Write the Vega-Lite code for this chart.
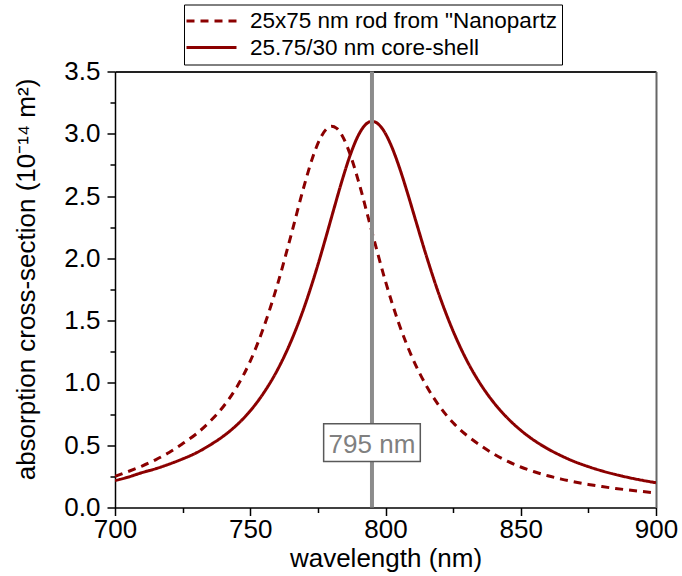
{
  "$schema": "https://vega.github.io/schema/vega-lite/v6.json",
  "width": 541,
  "height": 436,
  "autosize": {"type": "none"},
  "padding": {"left": 115, "top": 71.5, "right": 26, "bottom": 68.5},
  "background": "white",
  "config": {
    "view": {"stroke": null},
    "font": "Liberation Sans",
    "axis": {
      "labelFont": "Liberation Sans",
      "titleFont": "Liberation Sans",
      "domainColor": "black",
      "tickColor": "black",
      "labelColor": "black",
      "titleColor": "black",
      "grid": false,
      "titleFontWeight": "normal",
      "domainWidth": 1.5,
      "tickWidth": 1.5
    }
  },
  "datasets": {
    "curves": [
      {"series": "25x75 nm rod from \"Nanopartz", "wl": 700, "v": 0.25},
      {"series": "25x75 nm rod from \"Nanopartz", "wl": 705, "v": 0.29},
      {"series": "25x75 nm rod from \"Nanopartz", "wl": 710, "v": 0.333},
      {"series": "25x75 nm rod from \"Nanopartz", "wl": 715, "v": 0.383},
      {"series": "25x75 nm rod from \"Nanopartz", "wl": 720, "v": 0.442},
      {"series": "25x75 nm rod from \"Nanopartz", "wl": 725, "v": 0.513},
      {"series": "25x75 nm rod from \"Nanopartz", "wl": 730, "v": 0.59},
      {"series": "25x75 nm rod from \"Nanopartz", "wl": 735, "v": 0.689},
      {"series": "25x75 nm rod from \"Nanopartz", "wl": 740, "v": 0.809},
      {"series": "25x75 nm rod from \"Nanopartz", "wl": 745, "v": 0.966},
      {"series": "25x75 nm rod from \"Nanopartz", "wl": 750, "v": 1.175},
      {"series": "25x75 nm rod from \"Nanopartz", "wl": 755, "v": 1.449},
      {"series": "25x75 nm rod from \"Nanopartz", "wl": 760, "v": 1.785},
      {"series": "25x75 nm rod from \"Nanopartz", "wl": 765, "v": 2.179},
      {"series": "25x75 nm rod from \"Nanopartz", "wl": 770, "v": 2.588},
      {"series": "25x75 nm rod from \"Nanopartz", "wl": 773, "v": 2.806},
      {"series": "25x75 nm rod from \"Nanopartz", "wl": 776, "v": 2.968},
      {"series": "25x75 nm rod from \"Nanopartz", "wl": 778, "v": 3.034},
      {"series": "25x75 nm rod from \"Nanopartz", "wl": 780, "v": 3.06},
      {"series": "25x75 nm rod from \"Nanopartz", "wl": 782, "v": 3.043},
      {"series": "25x75 nm rod from \"Nanopartz", "wl": 784, "v": 2.984},
      {"series": "25x75 nm rod from \"Nanopartz", "wl": 787, "v": 2.831},
      {"series": "25x75 nm rod from \"Nanopartz", "wl": 790, "v": 2.62},
      {"series": "25x75 nm rod from \"Nanopartz", "wl": 795, "v": 2.212},
      {"series": "25x75 nm rod from \"Nanopartz", "wl": 800, "v": 1.815},
      {"series": "25x75 nm rod from \"Nanopartz", "wl": 805, "v": 1.473},
      {"series": "25x75 nm rod from \"Nanopartz", "wl": 810, "v": 1.198},
      {"series": "25x75 nm rod from \"Nanopartz", "wl": 815, "v": 0.981},
      {"series": "25x75 nm rod from \"Nanopartz", "wl": 820, "v": 0.811},
      {"series": "25x75 nm rod from \"Nanopartz", "wl": 825, "v": 0.68},
      {"series": "25x75 nm rod from \"Nanopartz", "wl": 830, "v": 0.58},
      {"series": "25x75 nm rod from \"Nanopartz", "wl": 835, "v": 0.5},
      {"series": "25x75 nm rod from \"Nanopartz", "wl": 840, "v": 0.43},
      {"series": "25x75 nm rod from \"Nanopartz", "wl": 845, "v": 0.372},
      {"series": "25x75 nm rod from \"Nanopartz", "wl": 850, "v": 0.325},
      {"series": "25x75 nm rod from \"Nanopartz", "wl": 855, "v": 0.287},
      {"series": "25x75 nm rod from \"Nanopartz", "wl": 860, "v": 0.255},
      {"series": "25x75 nm rod from \"Nanopartz", "wl": 865, "v": 0.228},
      {"series": "25x75 nm rod from \"Nanopartz", "wl": 870, "v": 0.205},
      {"series": "25x75 nm rod from \"Nanopartz", "wl": 875, "v": 0.185},
      {"series": "25x75 nm rod from \"Nanopartz", "wl": 880, "v": 0.168},
      {"series": "25x75 nm rod from \"Nanopartz", "wl": 885, "v": 0.153},
      {"series": "25x75 nm rod from \"Nanopartz", "wl": 890, "v": 0.14},
      {"series": "25x75 nm rod from \"Nanopartz", "wl": 895, "v": 0.128},
      {"series": "25x75 nm rod from \"Nanopartz", "wl": 900, "v": 0.117},
      {"series": "25.75/30 nm core-shell", "wl": 700, "v": 0.216},
      {"series": "25.75/30 nm core-shell", "wl": 705, "v": 0.245},
      {"series": "25.75/30 nm core-shell", "wl": 710, "v": 0.28},
      {"series": "25.75/30 nm core-shell", "wl": 715, "v": 0.311},
      {"series": "25.75/30 nm core-shell", "wl": 720, "v": 0.348},
      {"series": "25.75/30 nm core-shell", "wl": 725, "v": 0.39},
      {"series": "25.75/30 nm core-shell", "wl": 730, "v": 0.438},
      {"series": "25.75/30 nm core-shell", "wl": 735, "v": 0.5},
      {"series": "25.75/30 nm core-shell", "wl": 740, "v": 0.572},
      {"series": "25.75/30 nm core-shell", "wl": 745, "v": 0.662},
      {"series": "25.75/30 nm core-shell", "wl": 750, "v": 0.776},
      {"series": "25.75/30 nm core-shell", "wl": 755, "v": 0.921},
      {"series": "25.75/30 nm core-shell", "wl": 760, "v": 1.102},
      {"series": "25.75/30 nm core-shell", "wl": 765, "v": 1.33},
      {"series": "25.75/30 nm core-shell", "wl": 770, "v": 1.611},
      {"series": "25.75/30 nm core-shell", "wl": 775, "v": 1.948},
      {"series": "25.75/30 nm core-shell", "wl": 778, "v": 2.172},
      {"series": "25.75/30 nm core-shell", "wl": 781, "v": 2.403},
      {"series": "25.75/30 nm core-shell", "wl": 784, "v": 2.629},
      {"series": "25.75/30 nm core-shell", "wl": 787, "v": 2.832},
      {"series": "25.75/30 nm core-shell", "wl": 790, "v": 2.989},
      {"series": "25.75/30 nm core-shell", "wl": 792, "v": 3.059},
      {"series": "25.75/30 nm core-shell", "wl": 795, "v": 3.1},
      {"series": "25.75/30 nm core-shell", "wl": 797, "v": 3.084},
      {"series": "25.75/30 nm core-shell", "wl": 799, "v": 3.036},
      {"series": "25.75/30 nm core-shell", "wl": 802, "v": 2.911},
      {"series": "25.75/30 nm core-shell", "wl": 805, "v": 2.738},
      {"series": "25.75/30 nm core-shell", "wl": 808, "v": 2.534},
      {"series": "25.75/30 nm core-shell", "wl": 811, "v": 2.316},
      {"series": "25.75/30 nm core-shell", "wl": 815, "v": 2.027},
      {"series": "25.75/30 nm core-shell", "wl": 820, "v": 1.697},
      {"series": "25.75/30 nm core-shell", "wl": 825, "v": 1.416},
      {"series": "25.75/30 nm core-shell", "wl": 830, "v": 1.183},
      {"series": "25.75/30 nm core-shell", "wl": 835, "v": 0.995},
      {"series": "25.75/30 nm core-shell", "wl": 840, "v": 0.843},
      {"series": "25.75/30 nm core-shell", "wl": 845, "v": 0.72},
      {"series": "25.75/30 nm core-shell", "wl": 850, "v": 0.62},
      {"series": "25.75/30 nm core-shell", "wl": 855, "v": 0.538},
      {"series": "25.75/30 nm core-shell", "wl": 860, "v": 0.471},
      {"series": "25.75/30 nm core-shell", "wl": 865, "v": 0.415},
      {"series": "25.75/30 nm core-shell", "wl": 870, "v": 0.367},
      {"series": "25.75/30 nm core-shell", "wl": 875, "v": 0.328},
      {"series": "25.75/30 nm core-shell", "wl": 880, "v": 0.294},
      {"series": "25.75/30 nm core-shell", "wl": 885, "v": 0.265},
      {"series": "25.75/30 nm core-shell", "wl": 890, "v": 0.24},
      {"series": "25.75/30 nm core-shell", "wl": 895, "v": 0.218},
      {"series": "25.75/30 nm core-shell", "wl": 900, "v": 0.199}
    ],
    "marker": [{"wl": 795, "label": "795 nm"}]
  },
  "layer": [
    {
      "data": {"name": "curves"},
      "mark": {"type": "line", "color": "#8b0000", "strokeWidth": 3, "interpolate": "monotone", "clip": true},
      "encoding": {
        "x": {
          "field": "wl", "type": "quantitative",
          "scale": {"domain": [700, 900], "nice": false, "zero": false},
          "axis": {"orient": "bottom", "values": [700, 750, 800, 850, 900], "tickSize": 8, "labelFontSize": 26, "labelPadding": 1, "labelFlush": false, "labelOverlap": false, "title": "wavelength (nm)", "titleFontSize": 26, "titlePadding": 3}
        },
        "y": {
          "field": "v", "type": "quantitative",
          "scale": {"domain": [0, 3.5], "nice": false},
          "axis": {"orient": "left", "values": [0, 0.5, 1, 1.5, 2, 2.5, 3, 3.5], "format": ".1f", "tickSize": 8, "labelFontSize": 26, "labelPadding": 7, "labelFlush": false, "labelOverlap": false, "title": "absorption cross-section (10⁻¹⁴ m²)", "titleFontSize": 26, "titlePadding": 24, "titleY": 207.5}
        },
        "strokeDash": {
          "field": "series", "type": "nominal",
          "scale": {"domain": ["25x75 nm rod from \"Nanopartz", "25.75/30 nm core-shell"], "range": [[8, 6], [1, 0]]},
          "legend": {
            "title": null, "orient": "none", "legendX": 69, "legendY": -67,
            "symbolType": "M-2.5,0H2.5", "symbolSize": 400, "symbolStrokeWidth": 3,
            "symbolStrokeColor": "#8b0000", "symbolFillColor": "transparent",
            "symbolOffset": 11, "labelOffset": 27,
            "labelFont": "Liberation Sans", "labelFontSize": 22.5, "labelColor": "black", "labelLimit": 500,
            "padding": 5, "rowPadding": 3.6, "strokeColor": "black", "fillColor": "white"
          }
        }
      }
    },
    {
      "data": {"name": "marker"},
      "mark": {"type": "rule", "color": "#8c8c8c", "strokeWidth": 4},
      "encoding": {
        "x": {"field": "wl", "type": "quantitative", "axis": {"orient": "bottom", "values": [725, 775, 825, 875], "tickSize": 5, "labels": false, "domain": false, "title": null}},
        "y": {"datum": 0, "type": "quantitative", "axis": {"orient": "left", "values": [0.25, 0.75, 1.25, 1.75, 2.25, 2.75, 3.25], "tickSize": 5, "labels": false, "domain": false, "title": null}},
        "y2": {"datum": 3.5}
      }
    },
    {
      "data": {"name": "marker"},
      "mark": {"type": "point", "shape": "M-1.35,-0.527H1.35V0.527H-1.35Z", "size": 5127, "filled": true, "fill": "white", "stroke": "#595959", "strokeWidth": 1.5, "opacity": 1},
      "encoding": {
        "x": {"field": "wl", "type": "quantitative", "axis": {"orient": "top", "ticks": false, "labels": false, "domainWidth": 2, "domainColor": "#222222", "title": null}},
        "y": {"datum": 0.52, "type": "quantitative", "axis": {"orient": "right", "ticks": false, "labels": false, "domainWidth": 2, "domainColor": "#666666", "title": null}}
      }
    },
    {
      "data": {"name": "marker"},
      "mark": {"type": "text", "fontSize": 26, "color": "#808080", "font": "Liberation Sans", "baseline": "middle", "align": "center"},
      "encoding": {
        "x": {"field": "wl", "type": "quantitative", "axis": null},
        "y": {"datum": 0.5, "type": "quantitative", "axis": null},
        "text": {"field": "label"}
      }
    }
  ],
  "resolve": {"axis": {"x": "independent", "y": "independent"}}
}
